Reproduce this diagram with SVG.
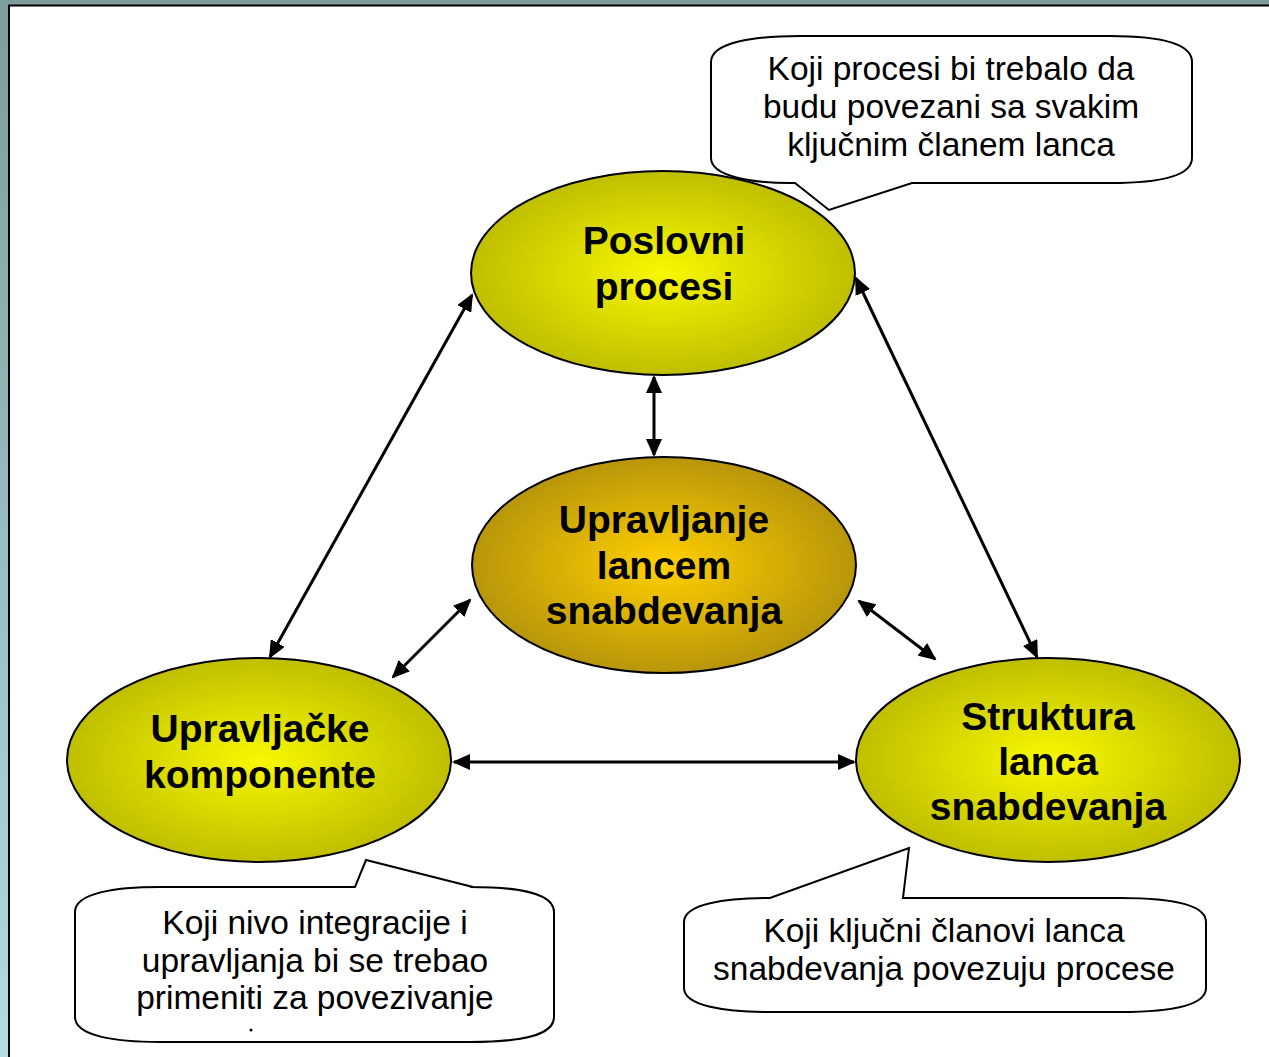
<svg xmlns="http://www.w3.org/2000/svg" width="1269" height="1057" viewBox="0 0 1269 1057">
<style>
.node{stroke:#000;stroke-width:2}
.lbl{font-family:"Liberation Sans",Arial,sans-serif;font-weight:bold;font-size:39px;text-anchor:middle;fill:#000}
.call{fill:#fff;stroke:#000;stroke-width:2;stroke-linejoin:miter}
.ct{font-family:"Liberation Sans",Arial,sans-serif;font-size:33.5px;text-anchor:middle;fill:#000}
.conn{stroke:#000;stroke-width:3;fill:none;marker-start:url(#ah);marker-end:url(#ah)}
</style>
<defs>
<radialGradient id="gy" cx="50%" cy="50%" r="50%">
<stop offset="0" stop-color="#f8f800"/>
<stop offset="1" stop-color="#bfbf00"/>
</radialGradient>
<radialGradient id="gg" cx="50%" cy="50%" r="50%">
<stop offset="0" stop-color="#ffd000"/>
<stop offset="1" stop-color="#b8960a"/>
</radialGradient>
<linearGradient id="side" x1="0" y1="0" x2="0" y2="1">
<stop offset="0" stop-color="#7d9c9c"/>
<stop offset="1" stop-color="#b2dcdf"/>
</linearGradient>
<marker id="ah" viewBox="0 0 18 16" refX="16" refY="8" markerWidth="18" markerHeight="16" markerUnits="userSpaceOnUse" orient="auto-start-reverse">
<path d="M0,0 L18,8 L0,16 Z" fill="#000"/>
</marker>
</defs>
<rect x="0" y="0" width="1269" height="1057" fill="#fff"/>
<rect x="0" y="0" width="1269" height="5" fill="#7d9c9c"/>
<rect x="0" y="0" width="8" height="1057" fill="url(#side)"/>
<path d="M9,1057 L9,5.5 L1269,5.5" fill="none" stroke="#000" stroke-width="2"/>

<g id="connectors">
<line class="conn" x1="472" y1="295" x2="270" y2="657"/>
<line class="conn" x1="856" y1="278" x2="1037" y2="657"/>
<line class="conn" x1="654" y1="377" x2="654" y2="455"/>
<line class="conn" x1="470" y1="600" x2="393" y2="677"/>
<line class="conn" x1="859" y1="601" x2="935" y2="659"/>
<line class="conn" x1="454" y1="762" x2="854" y2="762"/>
</g>

<g id="node-poslovni">
<ellipse class="node" cx="663" cy="273" rx="192" ry="102" fill="url(#gy)"/>
<text class="lbl" x="664" y="254">Poslovni</text>
<text class="lbl" x="664" y="300">procesi</text>
</g>
<g id="node-upravljanje">
<ellipse class="node" cx="664" cy="565" rx="192" ry="108" fill="url(#gg)"/>
<text class="lbl" x="664" y="533">Upravljanje</text>
<text class="lbl" x="664" y="579">lancem</text>
<text class="lbl" x="664" y="624">snabdevanja</text>
</g>
<g id="node-komponente">
<ellipse class="node" cx="259" cy="760" rx="192" ry="102" fill="url(#gy)"/>
<text class="lbl" x="260" y="742">Upravljačke</text>
<text class="lbl" x="260" y="788">komponente</text>
</g>
<g id="node-struktura">
<ellipse class="node" cx="1048" cy="760" rx="192" ry="102" fill="url(#gy)"/>
<text class="lbl" x="1048" y="730">Struktura</text>
<text class="lbl" x="1048" y="775">lanca</text>
<text class="lbl" x="1048" y="820">snabdevanja</text>
</g>

<g id="callout-top">
<path class="call" d="M711,62 C711,42 755,36 800,36 L1110,36 C1160,36 1192,43 1192,62 L1192,158 C1192,176 1160,183 1110,183 L912,183 L829,210 L795,183 L790,183 C750,183 711,176 711,158 Z"/>
<text class="ct" x="951" y="80">Koji procesi bi trebalo da</text>
<text class="ct" x="951" y="118">budu povezani sa svakim</text>
<text class="ct" x="951" y="156">ključnim članem lanca</text>
</g>
<g id="callout-left">
<path class="call" d="M75,912 C75,893 115,887 160,887 L355,887 L366,860 L473,887 L470,887 C520,887 554,893 554,912 L554,1017 C554,1036 520,1042 470,1042 L160,1042 C115,1042 75,1036 75,1017 Z"/>
<text class="ct" x="315" y="934">Koji nivo integracije i</text>
<text class="ct" x="315" y="972">upravljanja bi se trebao</text>
<text class="ct" x="315" y="1009">primeniti za povezivanje</text>
<circle cx="251" cy="1030" r="1.5" fill="#000"/>
</g>
<g id="callout-right">
<path class="call" d="M684,922 C684,904 725,898 770,898 L909,848 L903,898 L1120,898 C1170,898 1206,904 1206,922 L1206,988 C1206,1006 1170,1012 1120,1012 L770,1012 C725,1012 684,1006 684,988 Z"/>
<text class="ct" x="944" y="942">Koji ključni članovi lanca</text>
<text class="ct" x="944" y="980">snabdevanja povezuju procese</text>
</g>
</svg>
